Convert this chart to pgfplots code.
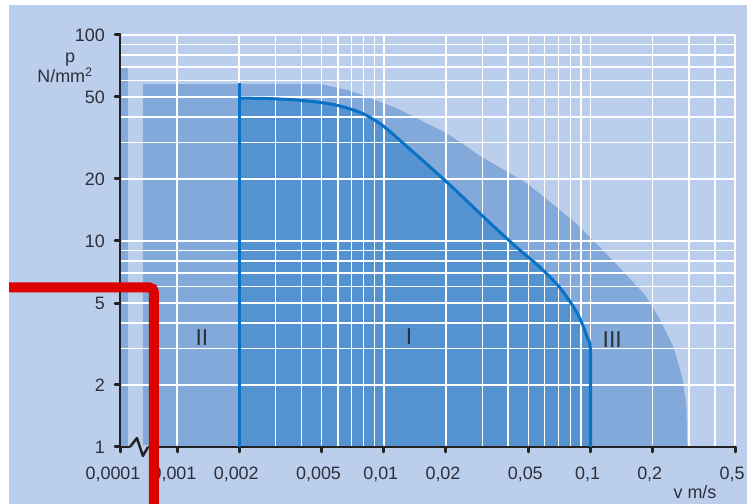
\documentclass[border=0pt]{standalone}
\usepackage{fontspec}
\setmainfont{Liberation Sans}
\usepackage{pgfplots}
\pgfplotsset{compat=1.18}
\definecolor{bgblue}{HTML}{BBCFEC}
\definecolor{medblue}{HTML}{83A8DA}
\definecolor{darkblue}{HTML}{5492D0}
\definecolor{lineblue}{HTML}{0A72C4}
\definecolor{axisblack}{HTML}{222222}
\definecolor{txtcol}{HTML}{2E2E3A}
\definecolor{redc}{HTML}{DD0000}
\newcommand{\firstlabel}{0,0001}
\begin{document}
\begin{tikzpicture}[x=1bp,y=1bp]
\begin{axis}[
  at={(120bp,57bp)}, anchor=south west,
  width=615bp, height=412bp, scale only axis,
  xmode=log, ymode=log,
  xmin=0.00053, xmax=0.5, ymin=1, ymax=100,
  set layers, clip=false,
  axis x line*=bottom, axis y line*=left,
  axis line style={line width=2.5bp, color=axisblack},
  xtick={0.001,0.002,0.005,0.01,0.02,0.05,0.1,0.2,0.5},
  xticklabels={{0,001},{0,002},{0,005},{0,01},{0,02},{0,05},{0,1},{0,2},{0,5}},
  extra x ticks={0.00053},
  extra x tick labels={\firstlabel},
  extra x tick style={grid=none, xticklabel style={xshift=-4bp}},
  minor xtick={0.003,0.004,0.006,0.007,0.008,0.009,0.03,0.04,0.06,0.07,0.08,0.09,0.3,0.4},
  ytick={1,2,5,10,20,50,100},
  yticklabels={1,2,5,10,20,50,100},
  minor ytick={3,4,6,7,8,9,30,40,60,70,80,90},
  grid=both,
  major grid style={white, line width=1.5bp},
  minor grid style={white, line width=1.5bp},
  tick align=outside, major tick length=5bp, minor tick length=0pt,
  major tick style={line width=3bp, axisblack, line cap=round},
  /pgf/number format/assume math mode=true,
  xticklabel style={font=\fontsize{18}{20}\selectfont, text=txtcol, anchor=north, inner sep=0pt, yshift=-15bp, xshift=-3bp},
  yticklabel style={font=\fontsize{18}{20}\selectfont, text=txtcol, anchor=east, inner sep=0pt, xshift=-10bp},
  no markers,
]
% page background
\begin{pgfonlayer}{axis background}
\fill[bgblue] (rel axis cs:-0.1805,-0.1383) rectangle (rel axis cs:1.0195,1.0728);
\end{pgfonlayer}
% outer envelope (medium blue)
\addplot[on layer=axis background, fill=medblue, draw=none] coordinates {
 (0.000684,1) (0.000684,57.9) (0.00492,57.9) (0.00687,53.6) (0.00959,47.4)
 (0.0120,43.3) (0.0203,33.2) (0.0292,25.9) (0.0494,19.0) (0.0690,14.5)
 (0.0863,12.0) (0.1031,10.06) (0.1393,7.36) (0.184,5.45) (0.218,4.12)
 (0.252,3.05) (0.278,2.18) (0.291,1.60) (0.294,1)};
% thin strip at the break
\addplot[on layer=axis background, fill=medblue, draw=none] coordinates {
 (0.00053,1) (0.00053,70.8) (0.000565,70.8) (0.000579,68) (0.000579,1)};
% region I (dark)
\addplot[on layer=axis background, fill=darkblue, draw=none] coordinates {
 (0.002,1) (0.002,49.4) (0.00282,49.1) (0.00394,48.2) (0.00550,46.3) (0.00687,43.8)
 (0.00813,41.0) (0.00960,37.1) (0.0116,31.7) (0.0203,19.2) (0.0292,13.6)
 (0.0366,11.0) (0.0457,9.0) (0.0571,7.44) (0.0715,5.89) (0.0863,4.46)
 (0.0964,3.41) (0.1,2.85) (0.1,1)};
% blue boundary lines
\addplot[lineblue, line width=3bp] coordinates {(0.002,1) (0.002,58.5)};
\addplot[lineblue, line width=3bp, smooth, tension=0.5, line join=round] coordinates {
 (0.002,49.4) (0.00282,49.1) (0.00394,48.2) (0.00550,46.3) (0.00687,43.8)
 (0.00813,41.0) (0.00960,37.1) (0.0116,31.7) (0.0203,19.2) (0.0292,13.6)
 (0.0366,11.0) (0.0457,9.0) (0.0571,7.44) (0.0715,5.89) (0.0863,4.46)
 (0.0964,3.41) (0.1,2.85) (0.1,1)};
% axis break
\draw[bgblue, line width=3bp] (axis cs:0.000590,1) -- (axis cs:0.000726,1);
\draw[axisblack, line width=2.5bp, line join=round] (axis cs:0.000592,1) -- (axis cs:0.000640,1.105) -- (axis cs:0.000684,0.905) -- (axis cs:0.000724,1);
% region labels
\node[font=\fontsize{23}{25}\selectfont, text=txtcol] at (axis cs:0.00132,3.41) {II};
\node[font=\fontsize{23}{25}\selectfont, text=txtcol] at (axis cs:0.01327,3.45) {I};
\node[font=\fontsize{23}{25}\selectfont, text=txtcol] at (axis cs:0.1273,3.33) {III};
% red highlight
\addplot[on layer=axis foreground, redc, line width=10bp, rounded corners=5bp] coordinates {
 (0.000154,5.955) (0.000774,5.955) (0.000774,0.53)};
\end{axis}
\node[font=\fontsize{18}{20}\selectfont, text=txtcol, anchor=base] at (70,441) {p};
\node[font=\fontsize{18}{20}\selectfont, text=txtcol, anchor=base] at (65,421) {N/mm\textsuperscript{2}};
\node[font=\fontsize{18}{20}\selectfont, text=txtcol, anchor=base] at (695,5) {v m/s};
\pgfresetboundingbox
\path[use as bounding box] (0,0) rectangle (747,504);
\end{tikzpicture}
\end{document}
